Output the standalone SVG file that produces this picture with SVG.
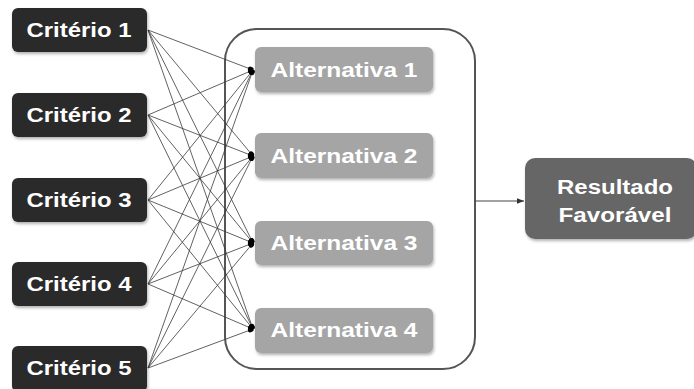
<svg xmlns="http://www.w3.org/2000/svg" width="694" height="389" viewBox="0 0 694 389">
<style>
.crit{fill:#2a2a2a}
.alt{fill:#a5a5a5}
.res{fill:#666666}
.t{font-family:"Liberation Sans",Arial,sans-serif;font-weight:bold;font-size:20px;fill:#ffffff;text-anchor:middle}
.c{stroke:#3a3a3a;stroke-width:0.8;fill:none}
</style>
<defs>
<filter id="sh" x="-10%" y="-10%" width="130%" height="140%">
<feDropShadow dx="1" dy="2" stdDeviation="1.5" flood-color="#000" flood-opacity="0.3"/>
</filter>
<marker id="dot" viewBox="0 0 10 10" refX="9" refY="5" markerWidth="6" markerHeight="6" markerUnits="userSpaceOnUse" orient="auto">
<ellipse cx="5" cy="5" rx="5" ry="4" fill="#000"/>
</marker>
<marker id="arr" viewBox="0 0 10 10" refX="10" refY="5" markerWidth="7" markerHeight="7" markerUnits="userSpaceOnUse" orient="auto">
<path d="M0,1 L10,5 L0,9 z" fill="#333"/>
</marker>
</defs>
<rect x="225" y="29" width="250" height="340" rx="32" fill="#fff" stroke="#555" stroke-width="2"/>
<g id="connectors">
<line class="c" x1="148" y1="30" x2="253" y2="70" marker-end="url(#dot)"/>
<line class="c" x1="148" y1="30" x2="253" y2="156" marker-end="url(#dot)"/>
<line class="c" x1="148" y1="30" x2="253" y2="243" marker-end="url(#dot)"/>
<line class="c" x1="148" y1="30" x2="253" y2="329" marker-end="url(#dot)"/>
<line class="c" x1="148" y1="115" x2="253" y2="70" marker-end="url(#dot)"/>
<line class="c" x1="148" y1="115" x2="253" y2="156" marker-end="url(#dot)"/>
<line class="c" x1="148" y1="115" x2="253" y2="243" marker-end="url(#dot)"/>
<line class="c" x1="148" y1="115" x2="253" y2="329" marker-end="url(#dot)"/>
<line class="c" x1="148" y1="200" x2="253" y2="70" marker-end="url(#dot)"/>
<line class="c" x1="148" y1="200" x2="253" y2="156" marker-end="url(#dot)"/>
<line class="c" x1="148" y1="200" x2="253" y2="243" marker-end="url(#dot)"/>
<line class="c" x1="148" y1="200" x2="253" y2="329" marker-end="url(#dot)"/>
<line class="c" x1="148" y1="284" x2="253" y2="70" marker-end="url(#dot)"/>
<line class="c" x1="148" y1="284" x2="253" y2="156" marker-end="url(#dot)"/>
<line class="c" x1="148" y1="284" x2="253" y2="243" marker-end="url(#dot)"/>
<line class="c" x1="148" y1="284" x2="253" y2="329" marker-end="url(#dot)"/>
<line class="c" x1="148" y1="368" x2="253" y2="70" marker-end="url(#dot)"/>
<line class="c" x1="148" y1="368" x2="253" y2="156" marker-end="url(#dot)"/>
<line class="c" x1="148" y1="368" x2="253" y2="243" marker-end="url(#dot)"/>
<line class="c" x1="148" y1="368" x2="253" y2="329" marker-end="url(#dot)"/>
<line x1="475" y1="201" x2="524" y2="201" stroke="#444" stroke-width="1" marker-end="url(#arr)"/>
</g>
<g id="criterio1"><rect class="crit" x="12" y="8" width="135" height="44" rx="6" filter="url(#sh)"/><text class="t" x="79" y="37" textLength="105" lengthAdjust="spacingAndGlyphs">Critério 1</text></g>
<g id="criterio2"><rect class="crit" x="12" y="93" width="135" height="44" rx="6" filter="url(#sh)"/><text class="t" x="79" y="122" textLength="105" lengthAdjust="spacingAndGlyphs">Critério 2</text></g>
<g id="criterio3"><rect class="crit" x="12" y="178" width="135" height="44" rx="6" filter="url(#sh)"/><text class="t" x="79" y="207" textLength="105" lengthAdjust="spacingAndGlyphs">Critério 3</text></g>
<g id="criterio4"><rect class="crit" x="12" y="262" width="135" height="44" rx="6" filter="url(#sh)"/><text class="t" x="79" y="291" textLength="105" lengthAdjust="spacingAndGlyphs">Critério 4</text></g>
<g id="criterio5"><rect class="crit" x="12" y="346" width="135" height="46" rx="6" filter="url(#sh)"/><text class="t" x="79" y="375" textLength="105" lengthAdjust="spacingAndGlyphs">Critério 5</text></g>
<g id="alt1"><rect class="alt" x="255" y="47" width="178" height="45" rx="6" filter="url(#sh)"/><text class="t" x="344" y="77" textLength="147" lengthAdjust="spacingAndGlyphs">Alternativa 1</text></g>
<g id="alt2"><rect class="alt" x="255" y="133" width="178" height="45" rx="6" filter="url(#sh)"/><text class="t" x="344" y="163" textLength="147" lengthAdjust="spacingAndGlyphs">Alternativa 2</text></g>
<g id="alt3"><rect class="alt" x="255" y="221" width="178" height="44" rx="6" filter="url(#sh)"/><text class="t" x="344" y="250" textLength="147" lengthAdjust="spacingAndGlyphs">Alternativa 3</text></g>
<g id="alt4"><rect class="alt" x="255" y="308" width="178" height="45" rx="6" filter="url(#sh)"/><text class="t" x="344" y="337" textLength="147" lengthAdjust="spacingAndGlyphs">Alternativa 4</text></g>
<g id="resultado"><rect class="res" x="525" y="158" width="172" height="81" rx="10" filter="url(#sh)"/><text class="t" x="615" y="194" textLength="116" lengthAdjust="spacingAndGlyphs">Resultado</text><text class="t" x="615" y="222" textLength="113" lengthAdjust="spacingAndGlyphs">Favorável</text></g>
</svg>
